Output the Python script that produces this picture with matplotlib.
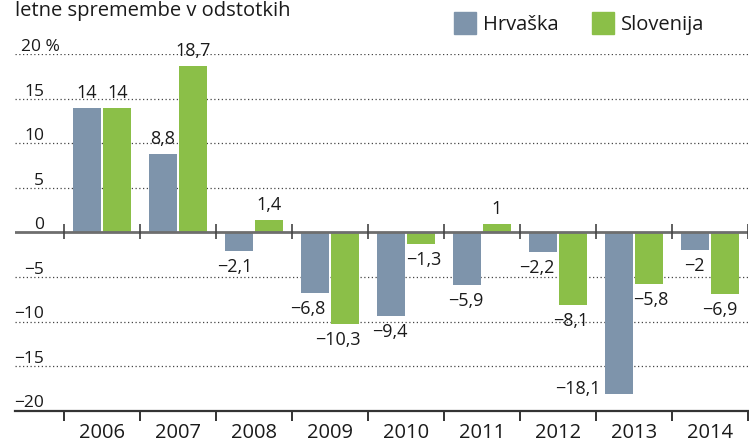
import matplotlib.pyplot as plt
import numpy as np

plt.rcParams['font.family'] = ['Open Sans', 'DejaVu Sans']

# data
years = ["2006", "2007", "2008", "2009", "2010", "2011", "2012", "2013", "2014"]
hrvaska = [14, 8.8, -2.1, -6.8, -9.4, -5.9, -2.2, -18.1, -2]
slovenija = [14, 18.7, 1.4, -10.3, -1.3, 1, -8.1, -5.8, -6.9]
yticks = [20, 15, 10, 5, 0, -5, -10, -15, -20]

blue = "#7e94ab"
green = "#8bbf48"
txt = "#1a1a1a"

W, H = 749, 444
fig = plt.figure(figsize=(W / 100, H / 100), dpi=100)
# axes from x=15..748 px, y=54..411 px
ax = fig.add_axes([15 / W, (H - 411) / H, 733 / W, 357 / H])
ax.set_xlim(-0.5 - 49 / 76, 8.5)
ax.set_ylim(-20, 20)
for s in ax.spines.values():
    s.set_visible(False)

x = np.arange(len(years))
off = 15 / 76
bw = 28 / 76
ax.bar(x - off, hrvaska, bw, color=blue, zorder=2)
ax.bar(x + off, slovenija, bw, color=green, zorder=2)

# grid lines
for v in yticks:
    if v in (0, -20):
        continue
    ax.axhline(v, color="#444444", lw=0.9, ls=(0, (1, 2)), zorder=1)
ax.axhline(0, color="#6e6e6e", lw=2, zorder=3)
ax.axhline(-20, color="#333333", lw=1.6, zorder=3, clip_on=False)

# separator ticks on zero line and bottom
seps = np.arange(-0.5, 9, 1)
px = 40 / 357  # data units per pixel
ax.vlines(seps, -7 * px, 8 * px, color="#444444", lw=1.2, zorder=4)
ax.vlines(seps, -20, -20 - 10 * px, color="#333333", lw=1.4, zorder=4, clip_on=False)

ax.set_xticks([])
ax.set_yticks([])

# year labels
for i, y in enumerate(years):
    ax.annotate(y, (i, -20), xytext=(0, -27), textcoords="offset pixels",
                ha="center", va="baseline", fontsize=14.5, color=txt, annotation_clip=False)

# y labels
for v in yticks:
    if v == 20:
        fig.text(21 / W, 1 - 51 / H, "20 %", ha="left", va="baseline",
                 fontsize=12.5, color=txt)
        continue
    ypx = 232 - v * 178 / 20 - 3
    lab = str(v).replace("-", "\u2212")
    fig.text(44 / W, 1 - ypx / H, lab, ha="right", va="baseline", fontsize=12.5, color=txt)

# value labels, pixel nudges per bar
dx_h = [0, 0, -4, -7, -1, -1, -6, 0, -1]
dx_s = [1, 0, 0, -7, 3, 0, -2, 2, -5]


def fmt(v):
    s = ("%g" % v).replace(".", ",")
    return s.replace("-", "\u2212")


for i in range(len(years)):
    for v, xo, dx in ((hrvaska[i], -off, dx_h[i]), (slovenija[i], off, dx_s[i])):
        if v == -18.1:
            ax.annotate(fmt(v), (i + xo - bw / 2, v), xytext=(-4, 0),
                        textcoords="offset pixels", ha="right", va="baseline",
                        fontsize=13, color=txt)
            continue
        dy = 10 if v > 0 else -21
        ax.annotate(fmt(v), (i + xo, v), xytext=(dx, dy), textcoords="offset pixels",
                    ha="center", va="baseline", fontsize=13, color=txt, annotation_clip=False)

# title
fig.text(15 / W, 1 - 16 / H, "letne spremembe v odstotkih", ha="left", va="baseline",
         fontsize=14.5, color=txt)

# legend
for x0, c, lab in ((454, blue, "Hrvaška"), (592, green, "Slovenija")):
    fig.patches.append(plt.Rectangle((x0 / W, 1 - 34 / H), 22 / W, 22 / H,
                                     transform=fig.transFigure, color=c))
    fig.text((x0 + 29) / W, 1 - 30 / H, lab, ha="left", va="baseline",
             fontsize=14.5, color=txt)

fig.savefig("out.png", dpi=100)
